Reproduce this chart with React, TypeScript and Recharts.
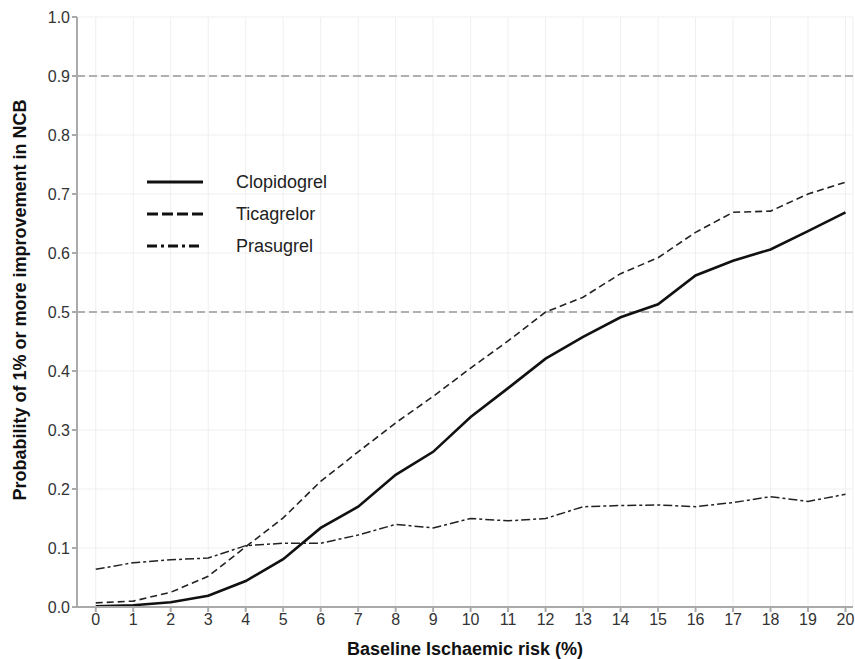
import React from "react";
import {
  LineChart,
  Line,
  XAxis,
  YAxis,
  CartesianGrid,
  ReferenceLine,
} from "recharts";

const riskLevels = [0, 1, 2, 3, 4, 5, 6, 7, 8, 9, 10, 11, 12, 13, 14, 15, 16, 17, 18, 19, 20];
const clopidogrel = [
  0.001, 0.003, 0.008, 0.019, 0.044, 0.081, 0.134, 0.17, 0.224, 0.263, 0.322,
  0.371, 0.421, 0.458, 0.491, 0.513, 0.562, 0.587, 0.606, 0.637, 0.669,
];
const ticagrelor = [
  0.007, 0.01, 0.025, 0.052, 0.102, 0.151, 0.213, 0.263, 0.312, 0.357, 0.405,
  0.451, 0.5, 0.525, 0.565, 0.592, 0.635, 0.669, 0.671, 0.7, 0.72,
];
const prasugrel = [
  0.064, 0.075, 0.08, 0.083, 0.104, 0.108, 0.108, 0.122, 0.14, 0.134, 0.15,
  0.146, 0.15, 0.17, 0.172, 0.173, 0.17, 0.177, 0.187, 0.179, 0.191,
];
const yTicks = [0, 0.1, 0.2, 0.3, 0.4, 0.5, 0.6, 0.7, 0.8, 0.9, 1.0];
const thresholds = [0.5, 0.9];

const data = riskLevels.map((risk, i) => ({
  risk,
  clopidogrel: clopidogrel[i],
  ticagrelor: ticagrelor[i],
  prasugrel: prasugrel[i],
}));

const font = "'Liberation Sans', Arial, Helvetica, sans-serif";

const legendItems = [
  { name: "Clopidogrel", dash: undefined },
  { name: "Ticagrelor", dash: "11 4" },
  { name: "Prasugrel", dash: "10 4 3 4" },
];

// legend sits inside the plot, top-left
const ChartLegend = () => (
  <div style={{ position: "absolute", left: 147, top: 166, fontFamily: font }}>
    {legendItems.map((item) => (
      <div
        key={item.name}
        style={{ display: "flex", alignItems: "center", height: 32 }}
      >
        <svg width={56} height={10} style={{ marginRight: 33 }}>
          <line
            x1={0}
            y1={5}
            x2={56}
            y2={5}
            stroke="#111"
            strokeWidth={3}
            strokeDasharray={item.dash}
          />
        </svg>
        <span style={{ fontSize: 18, color: "#222" }}>{item.name}</span>
      </div>
    ))}
  </div>
);

const YLabel = () => (
  <text
    x={20}
    y={300}
    transform="rotate(-90 20 300)"
    textAnchor="middle"
    dominantBaseline="central"
    fill="#111"
    fontSize={18}
    fontWeight="bold"
    fontFamily={font}
  >
    Probability of 1% or more improvement in NCB
  </text>
);

export default function App() {
  return (
    <div
      style={{
        position: "fixed",
        left: 0,
        top: 0,
        width: 855,
        height: 659,
        background: "#fff",
      }}
    >
      <LineChart
        width={855}
        height={659}
        data={data}
        margin={{ top: 17, right: 2, bottom: 0, left: 0 }}
      >
        <CartesianGrid stroke="#efefef" strokeWidth={1} />
        <XAxis
          dataKey="risk"
          type="number"
          domain={[-0.5, 20.2]}
          ticks={riskLevels}
          interval={0}
          height={52}
          stroke="#aaa"
          strokeWidth={2}
          tickSize={5}
          tick={{ fill: "#333", fontSize: 16, fontFamily: font }}
          label={{
            value: "Baseline Ischaemic risk (%)",
            position: "insideBottom",
            offset: 4,
            style: { fill: "#111", fontSize: 18, fontWeight: "bold", fontFamily: font },
          }}
        />
        <YAxis
          type="number"
          domain={[0, 1]}
          ticks={yTicks}
          width={77}
          stroke="#aaa"
          strokeWidth={2}
          tickSize={5}
          tickFormatter={(v: number) => v.toFixed(1)}
          tick={{ fill: "#333", fontSize: 16, fontFamily: font }}
          label={{ content: () => <YLabel /> }}
        />
        {thresholds.map((t) => (
          <ReferenceLine
            key={t}
            y={t}
            stroke="#999"
            strokeWidth={1.5}
            strokeDasharray="8 4"
          />
        ))}
        <Line
          type="linear"
          dataKey="clopidogrel"
          name="Clopidogrel"
          stroke="#111"
          strokeWidth={2.6}
          dot={false}
          isAnimationActive={false}
        />
        <Line
          type="linear"
          dataKey="ticagrelor"
          name="Ticagrelor"
          stroke="#222"
          strokeWidth={1.6}
          strokeDasharray="7 4"
          dot={false}
          isAnimationActive={false}
        />
        <Line
          type="linear"
          dataKey="prasugrel"
          name="Prasugrel"
          stroke="#222"
          strokeWidth={1.5}
          strokeDasharray="9 3 3 3"
          dot={false}
          isAnimationActive={false}
        />
      </LineChart>
      <ChartLegend />
    </div>
  );
}
